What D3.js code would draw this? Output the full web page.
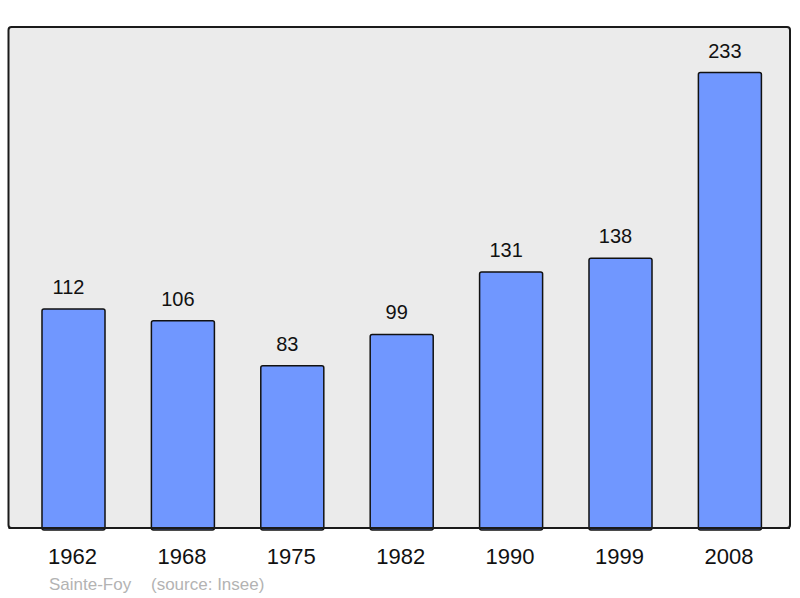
<!DOCTYPE html>
<html><head><meta charset="utf-8">
<script src="https://cdn.jsdelivr.net/npm/d3@7"></script>
<style>body{margin:0;background:#fff}svg{display:block}</style>
</head><body>
<script>
const years = ["1962","1968","1975","1982","1990","1999","2008"];
const population = [112,106,83,99,131,138,233];
const footerName = "Sainte-Foy";
const footerSource = "(source: Insee)";

const W = 800, H = 598;
const frame = {x0: 8.5, y0: 27, x1: 790, y1: 528};
const svg = d3.select("body").append("svg").attr("width", W).attr("height", H);

svg.append("rect").attr("x", frame.x0).attr("y", frame.y0)
  .attr("width", frame.x1 - frame.x0).attr("height", frame.y1 - frame.y0)
  .attr("rx", 3).attr("fill", "#ebebeb").attr("stroke", "#1a1a1a").attr("stroke-width", 2);

const x = d3.scaleBand().domain(years).range([18.8, 784.6]).paddingInner(0.424).paddingOuter(0.212);
const y = d3.scaleLinear().domain([0, d3.max(population) * 1.1]).range([frame.y1, frame.y0]);

const data = years.map((yr, i) => ({yr, v: population[i]}));

svg.selectAll("rect.bar").data(data).enter().append("rect").attr("class", "bar")
  .attr("x", d => x(d.yr)).attr("y", d => y(d.v))
  .attr("width", x.bandwidth()).attr("height", d => y(0) - y(d.v) + 2)
  .attr("rx", 2).attr("fill", "#7097ff").attr("stroke", "#111").attr("stroke-width", 1.5);

svg.append("line").attr("x1", frame.x0).attr("x2", frame.x1).attr("y1", frame.y1).attr("y2", frame.y1)
  .attr("stroke", "#1a1a1a").attr("stroke-width", 2);

svg.selectAll("text.val").data(data).enter().append("text").attr("class", "val")
  .attr("x", d => x(d.yr) + x.bandwidth() / 2 - 5).attr("y", d => y(d.v) - 15)
  .attr("text-anchor", "middle").attr("font-family", "Liberation Sans, Arial, sans-serif")
  .attr("font-size", 20).attr("fill", "#111").text(d => d.v);

svg.selectAll("text.yr").data(data).enter().append("text").attr("class", "yr")
  .attr("x", d => x(d.yr) + x.bandwidth() / 2 - 1).attr("y", 564)
  .attr("text-anchor", "middle").attr("font-family", "Liberation Sans, Arial, sans-serif")
  .attr("font-size", 22).attr("fill", "#111").text(d => d.yr);

svg.append("text").attr("x", 49).attr("y", 590)
  .attr("font-family", "Liberation Sans, Arial, sans-serif").attr("font-size", 17)
  .attr("fill", "#b3b3b3").text(footerName);
svg.append("text").attr("x", 151).attr("y", 590)
  .attr("font-family", "Liberation Sans, Arial, sans-serif").attr("font-size", 17)
  .attr("fill", "#b3b3b3").text(footerSource);
</script>
</body></html>
